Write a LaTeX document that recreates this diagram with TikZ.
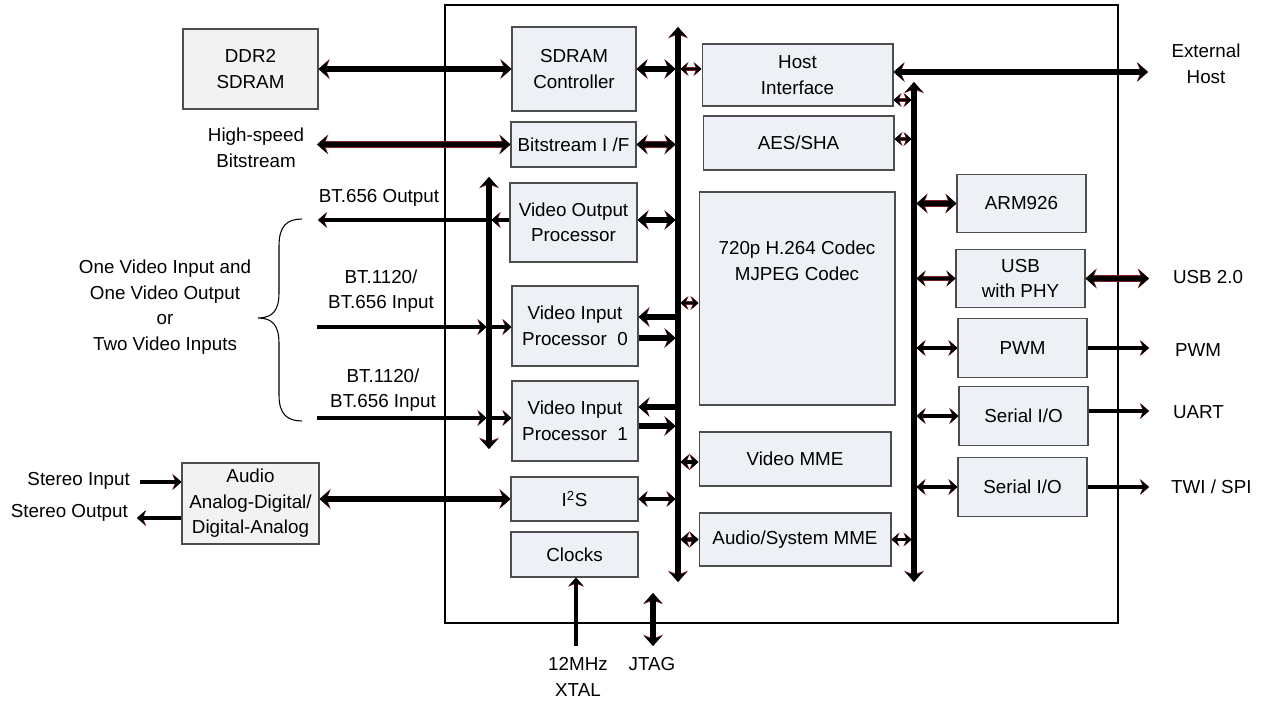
\documentclass[tikz,border=0pt]{standalone}
\usepackage{fontspec}
\setmainfont{Liberation Sans}
\usetikzlibrary{arrows.meta,calc}
\definecolor{blkfill}{HTML}{EDF0F5}
\definecolor{offfill}{HTML}{F2F2F2}
\definecolor{blkline}{HTML}{4D4D4D}
\definecolor{rimred}{HTML}{7A2020}
\tikzset{
    chip/.style={draw=black,line width=1.1pt,inner sep=0pt},
    blk/.style={draw=blkline,fill=blkfill,line width=0.6pt,align=center,inner sep=2pt},
    ext/.style={blk,fill=offfill},
    periph/.style={blk,minimum width=2.58cm,minimum height=1.17cm},
    lbl/.style={align=center,inner sep=1pt},
    tip/.style={>={Stealth[length=1.5pt 1.4,width=2.5pt 2.5,inset=0.5pt 0.5]}},
    slimwire/.style={tip,draw=black,line width=1.7pt,preaction={draw=rimred,line width=2.2pt}},
    wire/.style={tip,draw=black,line width=2.2pt,preaction={draw=rimred,line width=2.7pt}},
    bigwire/.style={tip,draw=black,line width=3pt,preaction={draw=rimred,line width=3.5pt}},
    tobus/.style={shorten >=1.4pt},
    frombus/.style={shorten <=1.4pt},
}

\begin{document}
\begin{tikzpicture}[x=0.02cm,y=-0.02cm,font=\fontsize{10.7}{14.5}\selectfont]
    \useasboundingbox (0,0) rectangle (1261,702);

    % chip outline
    \node[chip,minimum width=13.46cm,minimum height=12.36cm] (soc) at (781.5,314) {};

    % off-chip parts
    \node[ext,minimum width=2.7cm,minimum height=1.6cm] (ddr) at (250.5,69) {DDR2\\SDRAM};
    \node[ext,minimum width=2.74cm,minimum height=1.62cm] (audio) at (250.5,503.5) {Audio\\Analog-Digital/\\Digital-Analog};

    % on-chip blocks, left column
    \node[blk,minimum width=2.48cm,minimum height=1.68cm] (sdc) at (574,69) {SDRAM\\Controller};
    \node[blk,minimum width=2.5cm,minimum height=0.9cm] (bsif) at (573.5,144.5) {Bitstream I /F};
    \node[blk,minimum width=2.54cm,minimum height=1.58cm] (vop) at (573.5,222.5) {Video Output\\Processor};
    \node[blk,minimum width=2.52cm,minimum height=1.6cm] (vip0) at (575,326) {Video Input\\Processor\ \ 0};
    \node[blk,minimum width=2.52cm,minimum height=1.6cm] (vip1) at (575,421) {Video Input\\Processor\ \ 1};
    \node[blk,minimum width=2.54cm,minimum height=0.88cm] (iis) at (574.5,499) {I\textsuperscript{2}S};
    \node[blk,minimum width=2.54cm,minimum height=0.9cm] (clk) at (574.5,554.5) {Clocks};

    % middle column
    \node[blk,minimum width=3.82cm,minimum height=1.24cm] (host) at (797.5,75) {Host\\Interface};
    \node[blk,minimum width=3.82cm,minimum height=1.08cm] (aes) at (798.5,143) {AES/SHA};
    \node[blk,minimum width=3.92cm,minimum height=4.26cm] (codec) at (797,298.5) {};
    \node[lbl] (codectxt) at (797,261) {720p H.264 Codec\\MJPEG Codec};
    \node[blk,minimum width=3.84cm,minimum height=1.08cm] (vmme) at (795,459) {Video MME};
    \node[blk,minimum width=3.84cm,minimum height=1.06cm] (amme) at (795,539.5) {Audio/System MME};

    % peripherals
    \node[periph] (arm) at (1021.5,203.5) {ARM926};
    \node[periph] (usb) at (1020.5,278.5) {USB\\with PHY};
    \node[periph] (pwm) at (1022.5,348) {PWM};
    \node[periph] (sio1) at (1023.5,416) {Serial I/O};
    \node[periph] (sio2) at (1022.5,487) {Serial I/O};

    % labels
    \node[lbl] (hs) at (256,148) {High-speed\\Bitstream};
    \node[lbl] (btout) at (379,198) {BT.656 Output};
    \node[lbl] (btin0) at (381,291) {BT.1120/\\BT.656 Input};
    \node[lbl] (btin1) at (383,390) {BT.1120/\\BT.656 Input};
    \node[lbl] (modes) at (165,307) {One Video Input and\\One Video Output\\or\\Two Video Inputs};
    \node[lbl,anchor=east] (stin) at (132,481) {Stereo Input};
    \node[lbl,anchor=east] (stout) at (130,513) {Stereo Output};
    \node[lbl] (xtal) at (578,677) {12MHz\\XTAL};
    \node[lbl] (jtag) at (652,664) {JTAG};
    \node[lbl] (exthost) at (1206,64) {External\\Host};
    \node[lbl,anchor=west] (usb20) at (1171,277) {USB 2.0};
    \node[lbl,anchor=west] (pwmout) at (1173,350) {PWM};
    \node[lbl,anchor=west] (uart) at (1171,412) {UART};
    \node[lbl,anchor=west] (twi) at (1169,487) {TWI / SPI};

    % bus and free ends
    \coordinate (lbtop) at (678,27);
    \coordinate (lbbot) at (678,582);
    \coordinate (rbtop) at (914,82);
    \coordinate (rbbot) at (914,582);
    \coordinate (vbtop) at (489,177);
    \coordinate (vbbot) at (489,449);
    \coordinate (hsend) at (317,144.5);
    \coordinate (voend) at (318,220);
    \coordinate (in0start) at (317,327);
    \coordinate (in1start) at (317,418);
    \coordinate (stinstart) at (140,482);
    \coordinate (stoutend) at (137,518);
    \coordinate (xtalstart) at (576,646);
    \coordinate (jtagtop) at (653,593);
    \coordinate (jtagbot) at (653,646);
    \coordinate (hostend) at (1148,72);
    \coordinate (usbend) at (1149,278.5);
    \coordinate (pwmend) at (1149,348);
    \coordinate (uartend) at (1149,411);
    \coordinate (twiend) at (1149,487);

    % brace
    \draw[line width=0.6pt] (302,219) .. controls (287,219) and (279,226) .. (279,246) -- (279,293)
        .. controls (279,311) and (272,318) .. (258,318) .. controls (272,318) and (279,325) .. (279,343)
        -- (279,395) .. controls (279,414) and (287,421) .. (302,421);

    % buses
    \draw[bigwire,<->] (lbtop) -- (lbbot);
    \draw[bigwire,<->] (rbtop) -- (rbbot);
    \draw[bigwire,<->] (vbtop) -- (vbbot);

    % memory and bitstream
    \draw[bigwire,<->] (ddr) -- (sdc);
    \draw[bigwire,<->,tobus] (sdc.east) -- (sdc.east -| lbtop);
    \draw[slimwire,<->,frombus] ($(host.west -| lbtop)+(0,-6)$) -- ($(host.west)+(0,-6)$);
    \draw[bigwire,<->] (hsend) -- (hsend -| bsif.west);
    \draw[bigwire,<->,tobus] (bsif.east) -- (bsif.east -| lbtop);

    % video
    \draw[bigwire,<->,tobus] (vop.east |- voend) -- (voend -| lbtop);
    \draw[wire,->,tobus] (vop.west |- voend) -- (voend -| vbtop);
    \draw[wire,->] (voend -| vbtop) -- (voend);
    \draw[wire,->,tobus] (in0start) -- (in0start -| vbtop);
    \draw[wire,->,frombus] (in0start -| vbtop) -- (in0start -| vip0.west);
    \draw[wire,->,tobus] (in1start) -- (in1start -| vbtop);
    \draw[wire,->,frombus] (in1start -| vbtop) -- (in1start -| vip1.west);
    \draw[bigwire,->,frombus] ($(vip0.east -| lbtop)+(0,-9)$) -- ($(vip0.east)+(0,-9)$);
    \draw[bigwire,->,tobus] ($(vip0.east)+(0,12)$) -- ($(vip0.east -| lbtop)+(0,12)$);
    \draw[bigwire,->,frombus] ($(vip1.east -| lbtop)+(0,-14)$) -- ($(vip1.east)+(0,-14)$);
    \draw[bigwire,->,tobus] ($(vip1.east)+(0,5)$) -- ($(vip1.east -| lbtop)+(0,5)$);

    % codec and mme
    \draw[slimwire,<->,frombus] ($(codec.west -| lbtop)+(0,4.5)$) -- ($(codec.west)+(0,4.5)$);
    \draw[wire,<->,frombus] ($(vmme.west -| lbtop)+(0,3)$) -- ($(vmme.west)+(0,3)$);
    \draw[wire,<->,frombus] (amme.west -| lbtop) -- (amme.west);
    \draw[slimwire,<->,tobus] (amme.east) -- (amme.east -| rbtop);

    % audio, clocks, jtag
    \draw[wire,<->,tobus] (iis.east) -- (iis.east -| lbtop);
    \draw[bigwire,<->] (audio.east |- iis) -- (iis.west);
    \draw[wire,->] (stinstart) -- (stinstart -| audio.west);
    \draw[wire,->] (stoutend -| audio.west) -- (stoutend);
    \draw[wire,->] (xtalstart) -- (xtalstart |- clk.south);
    \draw[bigwire,<->] (jtagtop) -- (jtagbot);

    % host side
    \draw[bigwire,<->] ($(host.east)+(0,-3)$) -- (hostend);
    \draw[slimwire,<->,tobus] ($(host.east)+(0,25)$) -- ($(host.east -| rbtop)+(0,25)$);
    \draw[slimwire,<->,tobus] ($(aes.east)+(0,-4)$) -- ($(aes.east -| rbtop)+(0,-4)$);

    % peripherals
    \draw[bigwire,<->,frombus] (arm.west -| rbtop) -- (arm.west);
    \draw[wire,<->,frombus] (usb.west -| rbtop) -- (usb.west);
    \draw[wire,<->,frombus] (pwm.west -| rbtop) -- (pwm.west);
    \draw[wire,<->,frombus] (sio1.west -| rbtop) -- (sio1.west);
    \draw[wire,<->,frombus] (sio2.west -| rbtop) -- (sio2.west);
    \draw[bigwire,<->] (usb.east) -- (usbend);
    \draw[wire,->] (pwm.east) -- (pwmend);
    \draw[wire,->] (sio1.east |- uartend) -- (uartend);
    \draw[wire,->] (sio2.east) -- (twiend);
\end{tikzpicture}
\end{document}
